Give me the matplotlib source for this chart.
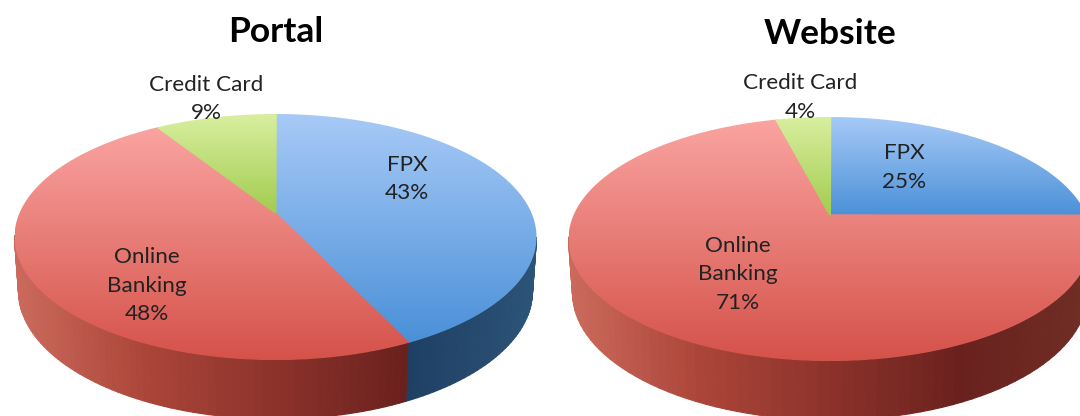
import numpy as np
import matplotlib
matplotlib.use("Agg")
import matplotlib.pyplot as plt
from matplotlib.collections import PolyCollection
from matplotlib.colors import LinearSegmentedColormap
from matplotlib.patches import Polygon

categories = ["FPX", "Online Banking", "Credit Card"]
portal_values = [43, 48, 9]
website_values = [25, 71, 4]
chart_titles = ["Portal", "Website"]

TOP = [("#a8caf7", "#4a90d8"), ("#faa4a1", "#d5524a"), ("#d9efa0", "#a3cc50")]
SIDE = [
    ["#33597f", "#2a4f74", "#1f3f63", "#1e3f62", "#2c5378"],
    ["#cb6a5c", "#ab4539", "#8c322b", "#6a211e", "#6f2e25"],
    ["#8aa84a", "#7d9a40", "#6e8a36", "#6e8a36", "#7d9a40"],
]
A = 0.195
DEPTH = 54
FONT = "Lato"

fig = plt.figure(figsize=(10.8, 4.16), dpi=100)
ax = fig.add_axes([0, 0, 1, 1])


def project(theta, cx, cy, rx, ry):
    u, v = np.sin(theta), np.cos(theta)
    d = 1 + A * v
    return cx + rx * np.sqrt(1 - A * A) * u / d, cy - ry * (v + A) / d


def draw_pie(values, cx, cy, rx, ry):
    edges = np.cumsum([0] + list(values)) / sum(values) * 2 * np.pi
    for i, (a, b) in enumerate(zip(edges[:-1], edges[1:])):
        t = np.linspace(a, b, 120)
        x, y = project(t, cx, cy, rx, ry)
        x2, y2 = project(t, cx, cy + DEPTH, rx - 4, ry + 5)
        side = LinearSegmentedColormap.from_list("s", SIDE[i])
        quads, cols = [], []
        for k in range(len(t) - 1):
            if np.cos(0.5 * (t[k] + t[k + 1])) > -A:
                continue
            quads.append([(x[k], y[k]), (x[k + 1], y[k + 1]), (x2[k + 1], y2[k + 1]), (x2[k], y2[k])])
            cols.append(side((0.5 * (x[k] + x[k + 1]) - cx) / rx * 0.5 + 0.5))
        if quads:
            ax.add_collection(PolyCollection(quads, facecolors=cols, edgecolors=cols, linewidths=0.8, zorder=1))
    vy = cy - ry * A
    delta = 0.006
    for i, (a, b) in enumerate(zip(edges[:-1], edges[1:])):
        t = np.linspace(a - delta, b + delta, 240)
        x, y = project(t, cx, cy, rx, ry)
        pa = np.array(project(np.array(a), cx, cy, rx, ry))
        pb = np.array(project(np.array(b), cx, cy, rx, ry))
        na = np.array([x[0], y[0]]) - pa
        nb = np.array([x[-1], y[-1]]) - pb
        na = na / np.hypot(*na)
        nb = nb / np.hypot(*nb)
        px = np.r_[cx + na[0], x, cx + nb[0], cx]
        py = np.r_[vy + na[1], y, vy + nb[1], vy]
        clip = Polygon(np.c_[px, py], closed=True, transform=ax.transData, fc="none", ec="none")
        ax.add_patch(clip)
        grad = np.linspace(0, 1, 256)[:, None]
        cmap = LinearSegmentedColormap.from_list("t", TOP[i])
        im = ax.imshow(grad, cmap=cmap, aspect="auto", zorder=2 + i * 0.1, interpolation="bilinear",
                       extent=(px.min(), px.max(), py.max(), py.min()))
        im.set_clip_path(clip)


draw_pie(portal_values, 275.5, 237, 261, 123)
draw_pie(website_values, 830, 239, 261.5, 122)

label_style = dict(ha="center", va="center", fontsize=16.2, family=FONT, color="#222222", zorder=5)
for (x, ys, lines) in [
    (206, (85, 113), ("Credit Card", f"{portal_values[2]}%")),
    (407, (165, 193), ("FPX", f"{portal_values[0]}%")),
    (147, (257, 286, 314), ("Online", "Banking", f"{portal_values[1]}%")),
    (800, (83, 112), ("Credit Card", f"{website_values[2]}%")),
    (904, (153, 182), ("FPX", f"{website_values[0]}%")),
    (738, (246, 274, 303), ("Online", "Banking", f"{website_values[1]}%")),
]:
    for yy, s in zip(ys, lines):
        ax.text(x, yy, s, **label_style)

ax.text(276, 31.5, chart_titles[0], ha="center", va="center", fontsize=25.5, fontweight="bold", family=FONT, color="black", zorder=5)
ax.text(830, 34.5, chart_titles[1], ha="center", va="center", fontsize=25.5, fontweight="bold", family=FONT, color="black", zorder=5)

ax.set_xlim(0, 1080)
ax.set_ylim(416, 0)
ax.axis("off")
fig.savefig("out.png", dpi=100, facecolor="white")
